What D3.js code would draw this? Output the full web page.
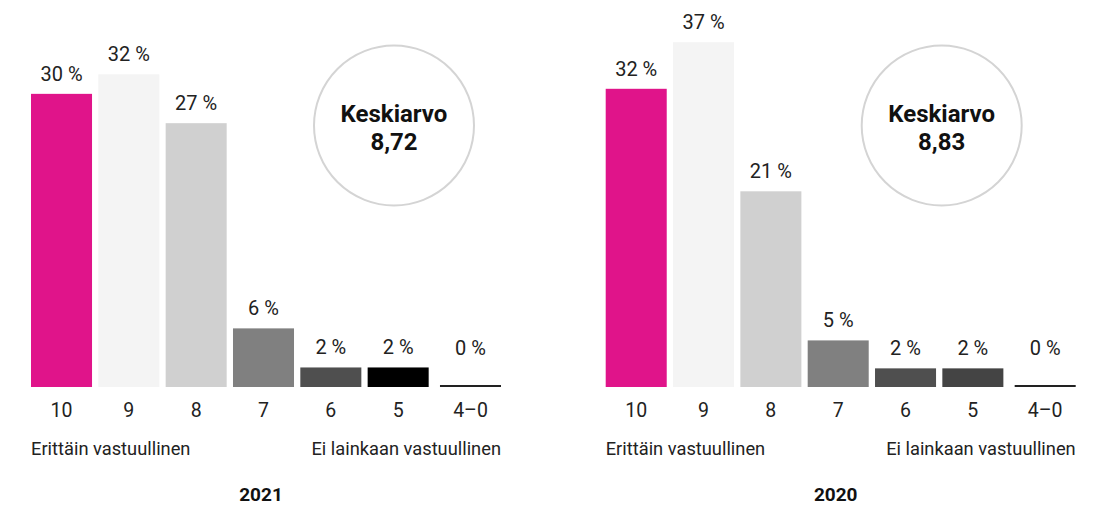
<!DOCTYPE html>
<html>
<head>
<meta charset="utf-8">
<script src="https://cdn.jsdelivr.net/npm/d3@7"></script>
<style>
  html, body { margin: 0; padding: 0; background: #fff; }
  svg { display: block; font-family: Roboto, "Noto Sans", sans-serif; }
</style>
</head>
<body>
<svg id="chart" width="1106" height="506"></svg>
<script>
(function () {
    'use strict';

    // data
    var categories = ['10', '9', '8', '7', '6', '5', '4–0'];
    var years = ['2021', '2020'];
    var values2021 = [30, 32, 27, 6, 2, 2, 0];
    var values2020 = [32, 37, 21, 5, 2, 2, 0];
    var averages = ['8,72', '8,83'];
    var lowLabel = 'Erittäin vastuullinen';
    var highLabel = 'Ei lainkaan vastuullinen';
    var averageTitle = 'Keskiarvo';

    var colors2021 = ['#e0148a', '#f4f4f4', '#d0d0d0', '#808080', '#4f4f4f', '#000000', '#222222'];
    var colors2020 = ['#e0148a', '#f4f4f4', '#d0d0d0', '#808080', '#4f4f4f', '#444444', '#222222'];

    // layout
    var panels = [
        { year: years[0], values: values2021, colors: colors2021, avg: averages[0], x0: 31, yMax: 35.0, circleX: 363 },
        { year: years[1], values: values2020, colors: colors2020, avg: averages[1], x0: 605.7, yMax: 36.7, circleX: 336 }
    ];
    var plotWidth = 470;
    var baseY = 387;
    var topY = 45;
    var lastGap = 5;     // the "4–0" column sits a bit further right
    var minLabelH = 19;  // labels of tiny bars sit as if the bar were this tall

    var svg = d3.select('#chart');

    var x = d3.scaleBand()
        .domain(categories)
        .range([0, plotWidth - lastGap])
        .paddingInner(0.0936)
        .paddingOuter(0);

    function xPos(c) {
        return x(c) + (c === categories[categories.length - 1] ? lastGap : 0);
    }

    panels.forEach(function (p) {
        var y = d3.scaleLinear().domain([0, p.yMax]).range([baseY, topY]);
        var g = svg.append('g').attr('transform', 'translate(' + p.x0 + ',0)');

        var rows = categories.map(function (c, i) {
            return { cat: c, value: p.values[i], color: p.colors[i] };
        });

        // bars (0 % drawn as a thin line)
        g.selectAll('rect.bar')
            .data(rows).enter()
            .append('rect')
            .attr('class', 'bar')
            .attr('x', function (d) { return xPos(d.cat); })
            .attr('width', x.bandwidth())
            .attr('y', function (d) { return d.value > 0 ? y(d.value) : baseY - 2; })
            .attr('height', function (d) { return d.value > 0 ? baseY - y(d.value) : 2; })
            .attr('fill', function (d) { return d.color; });

        // value labels
        g.selectAll('text.val')
            .data(rows).enter()
            .append('text')
            .attr('class', 'val')
            .attr('x', function (d) { return xPos(d.cat) + x.bandwidth() / 2; })
            .attr('y', function (d) { return Math.min(y(d.value), baseY - minLabelH) - 13; })
            .attr('text-anchor', 'middle')
            .attr('font-size', 20)
            .attr('fill', '#222')
            .text(function (d) { return d.value + ' %'; });

        // category labels
        g.selectAll('text.cat')
            .data(rows).enter()
            .append('text')
            .attr('class', 'cat')
            .attr('x', function (d) { return xPos(d.cat) + x.bandwidth() / 2; })
            .attr('y', 416.5)
            .attr('text-anchor', 'middle')
            .attr('font-size', 19.5)
            .attr('fill', '#222')
            .text(function (d) { return d.cat; });

        g.append('text')
            .attr('x', 0)
            .attr('y', 455)
            .attr('font-size', 18.3)
            .attr('fill', '#222')
            .text(lowLabel);

        g.append('text')
            .attr('x', plotWidth)
            .attr('y', 455)
            .attr('text-anchor', 'end')
            .attr('font-size', 18.3)
            .attr('fill', '#222')
            .text(highLabel);

        g.append('text')
            .attr('x', plotWidth / 2 - 5)
            .attr('y', 500.5)
            .attr('text-anchor', 'middle')
            .attr('font-size', 19)
            .attr('font-weight', 'bold')
            .attr('fill', '#111')
            .text(p.year);

        // average circle
        var c = g.append('g').attr('transform', 'translate(' + p.circleX + ',125.5)');
        c.append('circle')
            .attr('r', 80)
            .attr('fill', '#fff')
            .attr('stroke', '#d4d4d4')
            .attr('stroke-width', 2);
        c.append('text')
            .attr('y', -4)
            .attr('text-anchor', 'middle')
            .attr('font-size', 24)
            .attr('font-weight', 'bold')
            .attr('fill', '#111')
            .text(averageTitle);
        c.append('text')
            .attr('y', 24)
            .attr('text-anchor', 'middle')
            .attr('font-size', 24)
            .attr('font-weight', 'bold')
            .attr('fill', '#111')
            .text(p.avg);
    });
})();
</script>
</body>
</html>
